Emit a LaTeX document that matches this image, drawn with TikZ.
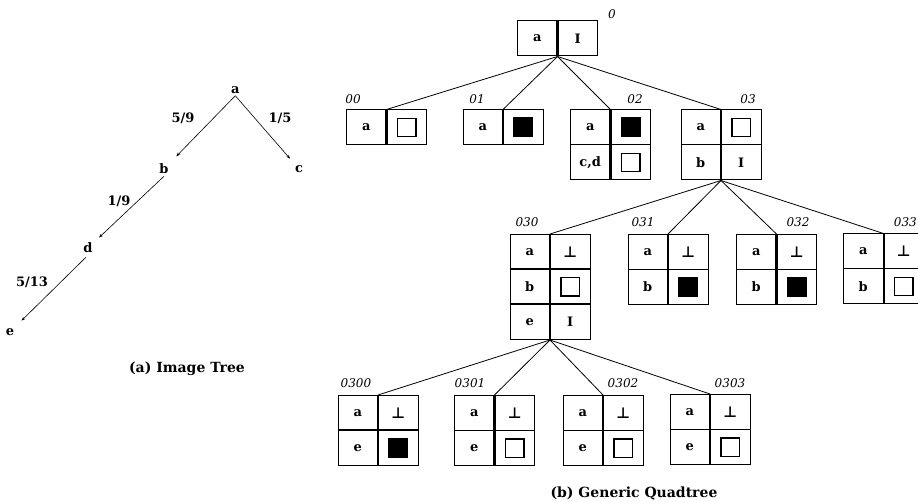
\documentclass[tikz,border=0pt]{standalone}
\usepackage{fontspec}
\setmainfont{DejaVu Serif}
\newfontfamily\symfont{DejaVu Sans}
\usetikzlibrary{arrows.meta}

% quadrant symbols: full (black) and empty (white) squares, and the "bottom" tack
\newcommand\blksq{\rule{20pt}{20pt}}
\newcommand\whtsq{{\setlength\fboxsep{0pt}\setlength\fboxrule{1.3pt}\fbox{\rule{0pt}{17pt}\hspace{17pt}}}}
\newcommand\upt{{\symfont\bfseries\fontsize{15}{17}\selectfont ⊥}}
% one row of a quadtree record: name, x, y, left entry, right entry
\newcommand\qrow[5]{%
  \node[cell] (#1l) at (#2,#3) {#4};
  \node[cell] (#1r) at (#1l.north east) {#5};}

\tikzset{
  cell/.style={draw, line width=1pt, minimum width=39.5pt, minimum height=35pt,
    inner sep=0pt, anchor=north west, font=\bfseries\fontsize{13}{15}\selectfont},
  div/.style={line width=2.6pt},
  link/.style={line width=0.8pt},
  tag/.style={font=\itshape\fontsize{12}{14}\selectfont, inner sep=0pt},
  tn/.style={font=\bfseries\fontsize{13}{15}\selectfont, inner sep=2pt},
  elab/.style={font=\bfseries\fontsize{13}{15}\selectfont, inner sep=0pt},
  capt/.style={font=\bfseries\fontsize{14}{16}\selectfont, inner sep=0pt},
  arr/.style={-{Stealth[length=4pt,width=3pt]}, line width=0.6pt}
}

\begin{document}
\begin{tikzpicture}[x=1pt,y=-1pt]
\useasboundingbox (0,0) rectangle (918,502);

% ---------------- (a) image tree ----------------
\node[tn] (a) at (235.3,90) {a};
\node[tn] (b) at (164,169) {b};
\node[tn] (c) at (299,169) {c};
\node[tn] (d) at (88,248) {d};
\node[tn] (e) at (10,332) {e};
\draw[arr, shorten >=8pt] (a.south) -- (b);
\draw[arr, shorten >=6pt] (a.south) -- (c);
\draw[arr, shorten >=6pt] (b.south) -- (d);
\draw[arr, shorten >=8pt, shorten <=3pt] (d.south) -- (e);
\node[elab] (lab) at (183,118) {5/9};
\node[elab] (lac) at (280,118) {1/5};
\node[elab] (lbd) at (119,201) {1/9};
\node[elab] (lde) at (32,282) {5/13};
\node[capt] (capa) at (187,369) {(a) Image Tree};

% ---------------- (b) generic quadtree ----------------
% root
\qrow{r}{517}{20.5}{a}{I}
\draw[div] (rl.north east) -- (rl.south east);
\node[tag] (t0) at (612,14) {0};

% level 1
\qrow{qA}{346}{109.5}{a}{\whtsq}
\draw[div] (qAl.north east) -- (qAl.south east);
\qrow{qB}{462.5}{109.5}{a}{\blksq}
\draw[div] (qBl.north east) -- (qBl.south east);
\qrow{qCa}{570}{109.5}{a}{\blksq}
\qrow{qCb}{570}{144.5}{c,d}{\whtsq}
\draw[div] (qCal.north east) -- (qCbl.south east);
\qrow{qDa}{680.5}{109.5}{a}{\whtsq}
\qrow{qDb}{680.5}{144.5}{b}{I}
\draw[div] (qDal.north east) -- (qDbl.south east);

\node[tag] (t00) at (353,99) {00};
\node[tag] (t01) at (477,99) {01};
\node[tag] (t02) at (635,99) {02};
\node[tag] (t03) at (748,99) {03};

\draw[link] (rl.south east) -- (qAl.north east);
\draw[link] (rl.south east) -- (qBl.north east);
\draw[link] (rl.south east) -- (qCal.north east);
\draw[link] (rl.south east) -- (qDal.north east);

% level 2
\qrow{pAa}{509.5}{234}{a}{\upt}
\qrow{pAb}{509.5}{269}{b}{\whtsq}
\qrow{pAc}{509.5}{304}{e}{I}
\draw[div] (pAal.north east) -- (pAcl.south east);
\draw[div] (pAbl.north west) -- (pAbr.north east);
\draw[div] (pAcl.north west) -- (pAcr.north east);
\qrow{pBa}{627.5}{234}{a}{\upt}
\qrow{pBb}{627.5}{269}{b}{\blksq}
\draw[div] (pBal.north east) -- (pBbl.south east);
\qrow{pCa}{736}{234}{a}{\upt}
\qrow{pCb}{736}{269}{b}{\blksq}
\draw[div] (pCal.north east) -- (pCbl.south east);
\qrow{pDa}{843}{233.5}{a}{\upt}
\qrow{pDb}{843}{268.5}{b}{\whtsq}

\node[tag] (t030) at (527,222.5) {030};
\node[tag] (t031) at (643,222.5) {031};
\node[tag] (t032) at (798,222.5) {032};
\node[tag, anchor=east] (t033) at (917,222.5) {033};

\draw[link] (qDbl.south east) -- (pAal.north east);
\draw[link] (qDbl.south east) -- (pBal.north east);
\draw[link] (qDbl.south east) -- (pCal.north east);
\draw[link] (qDbl.south east) -- (pDal.north east);

% level 3
\qrow{sAa}{337.5}{395}{a}{\upt}
\qrow{sAb}{337.5}{430}{e}{\blksq}
\draw[div] (sAbl.north west) -- (sAbr.north east);
\qrow{sBa}{454}{395}{a}{\upt}
\qrow{sBb}{454}{430}{e}{\whtsq}
\draw[div] (sBal.north east) -- (sBbl.south east);
\qrow{sCa}{562.5}{395}{a}{\upt}
\qrow{sCb}{562.5}{430}{e}{\whtsq}
\draw[div] (sCal.north east) -- (sCbl.south east);
\qrow{sDa}{669.5}{394}{a}{\upt}
\qrow{sDb}{669.5}{429}{e}{\whtsq}
\draw[div] (sDal.north east) -- (sDbl.south east);

\node[tag] (t0300) at (356,383) {0300};
\node[tag] (t0301) at (470,383) {0301};
\node[tag] (t0302) at (623,383) {0302};
\node[tag] (t0303) at (730,383) {0303};

\draw[link] (pAcl.south east) -- (sAal.north east);
\draw[link] (pAcl.south east) -- (sBal.north east);
\draw[link] (pAcl.south east) -- (sCal.north east);
\draw[link] (pAcl.south east) -- (sDal.north east);

\node[capt] (capb) at (634,493) {(b) Generic Quadtree};
\end{tikzpicture}
\end{document}
